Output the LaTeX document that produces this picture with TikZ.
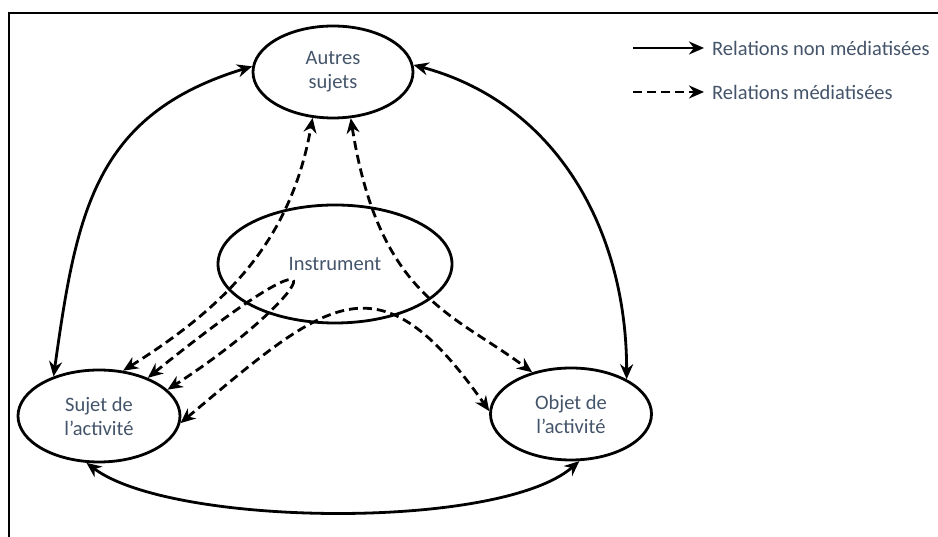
\documentclass[tikz,border=0pt]{standalone}
\usepackage{fontspec}
\setmainfont{Carlito}
\usepackage{xcolor}
\usetikzlibrary{arrows.meta,shapes}
\definecolor{txtgray}{HTML}{44546A}
\tikzset{
  pole/.style={ellipse, draw, line width=2.8pt, inner sep=0pt, align=center,
    text=txtgray, font=\fontsize{20.5}{24}\selectfont},
  legend/.style={anchor=west, inner sep=0pt, text=txtgray, font=\fontsize{20.5}{24}\selectfont},
  tip/.tip={Stealth[length=15pt,width=13pt]},
  direct/.style={line width=2.8pt, tip-tip},
  mediat/.style={direct, dash pattern=on 9pt off 5pt},
}

\begin{document}
\begin{tikzpicture}[x=1pt,y=1pt]
        \useasboundingbox (0,0) rectangle (938,537);
        \draw[line width=2.8pt] (9,0) -- (9,524) -- (938,524);
        %poles
        \node[pole, minimum width=160pt, minimum height=92pt] (autres) at (333,465) {Autres\\sujets};
        \node[pole, minimum width=234pt, minimum height=118pt] (instrument) at (335,273) {Instrument};
        \node[pole, minimum width=162pt, minimum height=92pt] (sujet) at (99,121) {Sujet de\\l'activité};
        \node[pole, minimum width=161pt, minimum height=92pt] (objet) at (571,123) {Objet de\\l'activité};
        %legend
        \node[legend] (leg1) at (712,489) {Relations non médiatisées};
        \node[legend] (leg2) at (712,445) {Relations médiatisées};
        \coordinate (s1) at (633,489);
        \coordinate (s2) at (633,445);
        \draw[line width=2.8pt, -tip, shorten >=8pt] (s1) -- (leg1);
        \draw[line width=2.8pt, dash pattern=on 9pt off 5pt, -tip, shorten >=8pt] (s2) -- (leg2);
        %relations
        \draw[direct] (sujet.139) to[out=82, in=197, looseness=1.15] (autres.176);
        \draw[direct] (autres.5) to[out=-15, in=90] (objet.32);
        \draw[direct] (sujet.-105) to[out=-37, in=221, looseness=0.55] (objet.-80);
        \draw[mediat] (sujet.62) to[out=32, in=260] (autres.-114);
        \draw[mediat] (autres.-69) to[out=-81, in=143, out looseness=1.5, in looseness=0.8] (objet.133);
        \draw[mediat] (sujet.-5) to[out=40, in=125, looseness=1.6] (objet.178);
        \draw[mediat] (sujet.38) .. controls +(213,172) and +(144,93) .. (sujet.21);
    \end{tikzpicture}
\end{document}
